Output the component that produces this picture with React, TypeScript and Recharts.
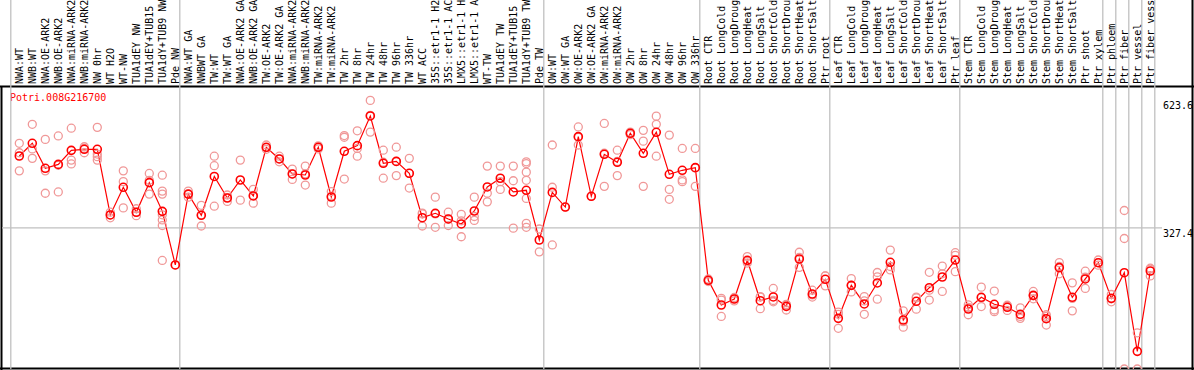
import { ComposedChart, Line, Scatter, XAxis, YAxis, ReferenceLine } from 'recharts';

const title = 'Potri.008G216700';

const categories = [
  'NWA:WT', 'NWB:WT', 'NWA:OE-ARK2', 'NWB:OE-ARK2', 'NWA:miRNA-ARK2', 'NWB:miRNA-ARK2', 'NW 0hr', 'WT H2O', 'WT-NW',
  'TUA1dEY NW', 'TUA1dEY+TUB15 NW', 'TUA1dY+TUB9 NW', 'Pde NW',
  'NWA:WT GA', 'NWBWT GA', 'TW:WT', 'TW:WT GA', 'NWA:OE-ARK2 GA', 'NWB:OE-ARK2 GA', 'TW:OE-ARK2', 'TW:OE-ARK2 GA',
  'NWA:miRNA-ARK2 GA', 'NWB:miRNA-ARK2 GA', 'TW:miRNA-ARK2', 'TW:miRNA-ARK2', 'TW 2hr', 'TW 8hr', 'TW 24hr', 'TW 48hr',
  'TW 96hr', 'TW 336hr', 'WT ACC', '35S::etr1-1 H2O', '35S::etr1-1 ACC', 'LMX5::etr1-1 H2O', 'LMX5::etr1-1 ACC', 'WT-TW',
  'TUA1dEY TW', 'TUA1dEY+TUB15 TW', 'TUA1dY+TUB9 TW', 'Pde TW',
  'OW:WT', 'OW:WT GA', 'OW:OE-ARK2', 'OW:OE-ARK2 GA', 'OW:miRNA-ARK2', 'OW:miRNA-ARK2', 'OW 2hr', 'OW 8hr', 'OW 24hr',
  'OW 48hr', 'OW 96hr', 'OW 336hr',
  'Root CTR', 'Root LongCold', 'Root LongDrought', 'Root LongHeat', 'Root LongSalt', 'Root ShortCold', 'Root ShortDrought',
  'Root ShortHeat', 'Root ShortSalt', 'Ptr root',
  'Leaf CTR', 'Leaf LongCold', 'Leaf LongDrought', 'Leaf LongHeat', 'Leaf LongSalt', 'Leaf ShortCold', 'Leaf ShortDrought',
  'Leaf ShortHeat', 'Leaf ShortSalt', 'Ptr leaf',
  'Stem CTR', 'Stem LongCold', 'Stem LongDrought', 'Stem LongHeat', 'Stem LongSalt', 'Stem ShortCold', 'Stem ShortDrought',
  'Stem ShortHeat', 'Stem ShortSalt', 'Ptr shoot', 'Ptr xylem',
  'Ptr phloem', 'Ptr fiber', 'Ptr vessel', 'Ptr fiber vessel',
];

const means = [
  494.5, 524, 466, 475, 507.6, 510, 510, 357.6, 421.8, 363.8, 432.6, 366, 241.5,
  406, 356.8, 447, 397, 438.8, 401.7, 514.7, 487.6, 452.8, 450.4, 514.7, 399.3, 505.4, 518.5, 587.4, 477.6,
  482, 454.3, 351.3, 361.5, 348.3, 336.7, 366.8, 422.6, 442.8, 411, 414.9, 299.5,
  410, 376, 539.4, 401, 498.4, 479.9, 547.2, 500.8, 549.5, 452, 461.3, 467.4,
  205.9, 148.6, 162.5, 252.4, 158.6, 167.2, 145.5, 255.4, 174, 208.2,
  117.6, 194.2, 151, 199.7, 247.7, 113.8, 157.2, 188.8, 213.6, 253,
  139.3, 166.5, 150.2, 143.2, 127, 171, 116.8, 235.3, 166.5, 209, 246.8,
  164, 223.6, 41, 227.5,
];

const replicates: number[][] = [
  [524, 502, 460], [568, 511, 489], [533, 460, 408], [541, 473, 411], [559, 485, 476], [516, 512, 502],
  [561, 499, 493, 485], [364, 358, 351], [460, 435, 374], [372, 364, 356], [454, 438, 406],
  [450, 413, 406, 358, 346, 333, 252], [241.5],
  [413, 406, 399], [380, 358, 332], [494, 472, 378], [404, 398, 389], [485, 392], [417, 403, 385], [520, 514, 510],
  [494, 488, 481], [464, 453, 440], [471, 453, 427], [518, 515, 511], [412, 401, 385], [542, 538, 441], [553, 512, 494],
  [623.6, 589, 550], [508, 480, 443], [515, 482, 449], [489, 454, 420], [362, 360, 332], [399, 360, 329], [364, 348, 333],
  [359, 344, 307], [399, 354, 345], [471, 408, 388], [471, 435, 417], [471, 437, 327],
  [481, 477, 457, 438, 396, 338, 329], [325, 272],
  [520, 422, 288], [376], [562, 538, 520], [401], [570, 501, 424], [508, 482, 449], [550, 547, 544], [554, 529, 424],
  [587, 568, 494], [543, 417, 394], [512, 439, 435], [512, 467, 424],
  [209, 206, 203], [164, 160, 122], [166, 163, 158], [261, 250, 246], [167, 168, 140], [187, 159, 156], [150, 149, 137],
  [271, 259, 236], [183, 172, 167], [216, 216, 193],
  [132, 127, 94.5], [210, 194, 179], [168, 158, 127], [224, 214, 162], [276, 238, 230], [135, 110, 97], [167, 165, 139],
  [224.5, 183, 160], [239, 221, 180], [270, 264, 226],
  [149, 143, 126], [190, 165, 145], [181, 137, 133], [148, 146, 136], [142, 122, 117.6], [180, 170, 163], [126, 122, 102],
  [247, 238, 221], [200, 164, 135], [227, 213, 187], [253, 247, 241],
  [173, 163, 156], [368, 303, 0], [84, 0], [234, 232, 216],
];

// index where each sample group begins (grey separators)
const groupStarts = [0, 13, 41, 53, 63, 73, 84, 85, 86, 87, 88];
const yTicks = [0, 327.4, 623.6];

const rows = categories.map((name, i) => ({ i, name, mean: means[i] }));
const repRows = replicates.flatMap((r, i) => r.map(v => ({ i, v })));

const FONT = '"DejaVu Sans Mono", monospace';
const Y_MAX = 657;
const Y_TOP = 857; // value at the very top of the image

const CatTick = ({ x, payload }: any) => (
  <text transform={`translate(${x + 3.7},84) rotate(-90)`} fontSize={10} fontFamily={FONT} fill="#000">
    {categories[payload.value]}
  </text>
);

const ValTick = ({ y, payload }: any) => (
  <text x={1163} y={payload.value === 0 ? y - 3.5 : y + 9} fontSize={10} fontFamily={FONT} fill="#000">
    {payload.value}
  </text>
);

const Ring = ({ cx, cy, color, w }: any) =>
  cx == null ? null : <circle cx={cx} cy={cy} r={4} fill="none" stroke={color} strokeWidth={w} />;

export default function App() {
  return (
    <div style={{ position: 'absolute', left: 0, top: 0, width: 1194, height: 370, background: '#fff' }}>
      <ComposedChart width={1194} height={370} data={rows} margin={{ top: 0, right: 1, bottom: 1, left: 2 }}>
        <XAxis type="number" dataKey="i" orientation="top" height={86} domain={[-1.3308, 90.285]} allowDataOverflow
          ticks={rows.map(r => r.i)} interval={0} tick={<CatTick />} tickLine={false} axisLine={false} />
        <YAxis type="number" orientation="right" mirror domain={[0, Y_MAX]} allowDataOverflow ticks={yTicks}
          tick={<ValTick />} tickLine={false} axisLine={false} width={1} />
        {groupStarts.map(k => (
          <ReferenceLine key={k} segment={[{ x: k - 0.654, y: 0 }, { x: k - 0.654, y: Y_TOP }]}
            stroke="#c0c0c0" strokeWidth={1.3} ifOverflow="visible" />
        ))}
        <ReferenceLine segment={[{ x: -1.3308, y: 327.4 }, { x: 87.9, y: 327.4 }]} stroke="#c0c0c0" strokeWidth={1.3} />
        <Scatter data={repRows} dataKey="v" isAnimationActive={false}
          shape={(p: any) => <Ring {...p} color="#f09898" w={1.3} />} />
        <Line dataKey="mean" stroke="#ff0000" strokeWidth={1.2} isAnimationActive={false}
          dot={(p: any) => <Ring key={p.index} {...p} color="#ff0000" w={1.6} />} activeDot={false} />
        <line x1={0} y1={86.5} x2={1194} y2={86.5} stroke="#000" strokeWidth={2} />
        <line x1={0} y1={368.5} x2={1194} y2={368.5} stroke="#000" strokeWidth={2} />
        <line x1={1.5} y1={86} x2={1.5} y2={370} stroke="#000" strokeWidth={2} />
        <line x1={1192.5} y1={0} x2={1192.5} y2={370} stroke="#000" strokeWidth={2} />
        <text x={10} y={100.5} fontSize={10} fontFamily={FONT} fill="#ff0000">{title}</text>
      </ComposedChart>
    </div>
  );
}
